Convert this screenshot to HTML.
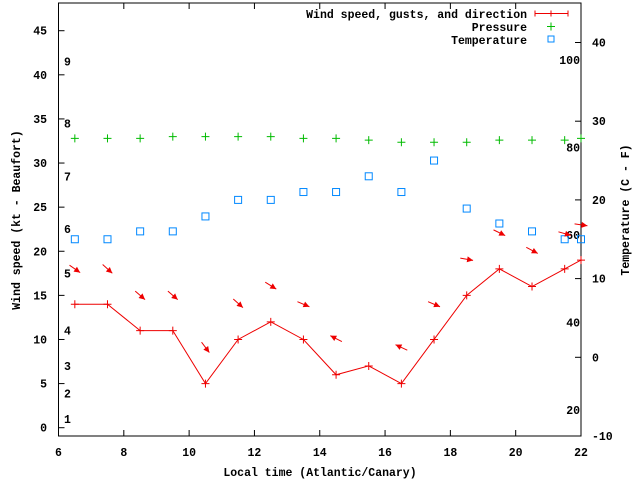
<!DOCTYPE html>
<html><head><meta charset="utf-8"><style>
body{margin:0;background:#fff}
svg{display:block}
text{font-family:"Liberation Mono",monospace;font-size:11.5px;font-weight:bold;fill:#000}
</style></head><body>
<svg id="chart" width="640" height="480" xmlns="http://www.w3.org/2000/svg">
<g id="axes"></g>
<g id="marks"></g>
<g>
<text x="527" y="18" text-anchor="end">Wind speed, gusts, and direction</text>
<line x1="535" y1="13.5" x2="568" y2="13.5" stroke="#e00"/>
<path d="M535 10.5v6M568 10.5v6M551 10.5v6" stroke="#e00"/>
<text x="527" y="31" text-anchor="end">Pressure</text>
<path d="M547 26.5h8M551 22.5v8" stroke="#0b0"/>
<text x="527" y="44" text-anchor="end">Temperature</text>
<rect x="548" y="36" width="6" height="6" fill="none" stroke="#08f"/>
</g>
<text x="320" y="476" text-anchor="middle">Local time (Atlantic/Canary)</text>
<text transform="translate(20,220) rotate(-90)" text-anchor="middle">Wind speed (kt - Beaufort)</text>
<text transform="translate(629,210) rotate(-90)" text-anchor="middle">Temperature (C - F)</text>
</svg>
<script>
const hours=[6.5,7.5,8.5,9.5,10.5,11.5,12.5,13.5,14.5,15.5,16.5,17.5,18.5,19.5,20.5,21.5,22];
const windSpeed=[14,14,11,11,5,10,12,10,6,7,5,10,15,18,16,18,19];
const pressure=[32.8,32.8,32.8,33,33,33,33,32.8,32.8,32.6,32.35,32.35,32.35,32.6,32.6,32.6,32.8];
const temperature=[15,15,16,16,17.9,20,20,21,21,23,21,25,18.9,17,16,15,15];
const arrowHours=[6.5,7.5,8.5,9.5,10.5,11.5,12.5,13.5,14.5,16.5,17.5,18.5,19.5,20.5,21.5,22];
const arrowLevel=[18,18,15,15,9.1,14.1,16.1,14,10.1,9.1,14,19.1,22.1,20.1,22,23];
const arrowFromDir=[305,312,311,311,323,312,302,293,117,115,293,280,296,298,286,278];
const xTicks=[6,8,10,12,14,16,18,20,22];
const yTicks=[0,5,10,15,20,25,30,35,40,45];
const y2Ticks=[-10,0,10,20,30,40];
const fLabels=[20,40,60,80,100];
const beaufortNums=[1,2,3,4,5,6,7,8,9];
const beaufortY=[1,3.9,7,11,17.5,22.5,28.5,34.5,41.5];

const L=58.5,R=581,T=3,B=436;
const X=h=>L+(h-6)*(R-L)/16;
const Y=v=>427.7-v*8.822;
const Y2=c=>357.3-c*7.87;
const NS="http://www.w3.org/2000/svg";
function mk(tag,attrs,parent){const e=document.createElementNS(NS,tag);for(const k in attrs)e.setAttribute(k,attrs[k]);parent.appendChild(e);return e;}
const ax=document.getElementById('axes'),mg=document.getElementById('marks');

let f=mk('rect',{x:L,y:T,width:R-L,height:B-T,fill:'none',stroke:'#000'},ax);


xTicks.forEach(t=>{
 const x=X(t);
 let l=mk('path',{d:`M${x} ${B}v-6M${x} ${T}v6`,stroke:'#000'},ax);
 
 
 let tx=mk('text',{x:x,y:456,'text-anchor':'middle'},ax);tx.textContent=t;
 
 
});
yTicks.forEach(t=>{
 const y=Y(t);
 let l=mk('path',{d:`M${L} ${y}h6`,stroke:'#000'},ax);
 
 
 let tx=mk('text',{x:47,y:y+4,'text-anchor':'end'},ax);tx.textContent=t;
 
 
});
y2Ticks.forEach(t=>{
 const y=Y2(t);
 let l=mk('path',{d:`M${R} ${y}h-6`,stroke:'#000'},ax);
 
 
 let tx=mk('text',{x:592,y:y+4},ax);tx.textContent=t;
 
 
});
fLabels.forEach(F=>{
 let tx=mk('text',{x:580,y:Y2((F-32)*5/9)+4,'text-anchor':'end'},ax);tx.textContent=F;
 
 
});
beaufortNums.forEach((n,i)=>{
 let tx=mk('text',{x:64,y:Y(beaufortY[i])+4},ax);tx.textContent=n;
 
 
});
// pressure
pressure.forEach((p,i)=>{
 const x=X(hours[i]),y=Y(p);
 let m=mk('path',{d:`M${x-4} ${y}h8M${x} ${y-4}v8`,stroke:'#0b0'},mg);
 
 
});
// temperature
temperature.forEach((c,i)=>{
 const x=X(hours[i]),y=Y2(c);
 let m=mk('rect',{x:x-3.5,y:y-3.5,width:7,height:7,fill:'none',stroke:'#08f'},mg);
 
 
});
// wind line
let pts=windSpeed.map((v,i)=>X(hours[i])+','+Y(v)).join(' ');
let pl=mk('polyline',{points:pts,fill:'none',stroke:'#e00'},mg);


windSpeed.forEach((v,i)=>{
 const x=X(hours[i]),y=Y(v);
 let m=mk('path',{d:`M${x-4} ${y}h8M${x} ${y-4}v8`,stroke:'#e00'},mg);
 
 
});
// arrows
arrowHours.forEach((h,i)=>{
 const to=(arrowFromDir[i]+180)*Math.PI/180;
 const dx=Math.sin(to),dy=-Math.cos(to);
 const cx=X(h),cy=Y(arrowLevel[i]),len=13;
 const x1=cx-dx*len/2,y1=cy-dy*len/2,x2=cx+dx*len/2,y2=cy+dy*len/2;
 const px=-dy,py=dx,hl=6,hw=3;
 const bx=x2-dx*hl,by=y2-dy*hl;
 let a=mk('line',{x1:x1,y1:y1,x2:x2,y2:y2,stroke:'#e00'},mg);
 
 
 let hd=mk('polygon',{points:`${x2},${y2} ${bx+px*hw},${by+py*hw} ${bx-px*hw},${by-py*hw}`,fill:'#e00'},mg);
 
 
});
</script>
</body></html>
